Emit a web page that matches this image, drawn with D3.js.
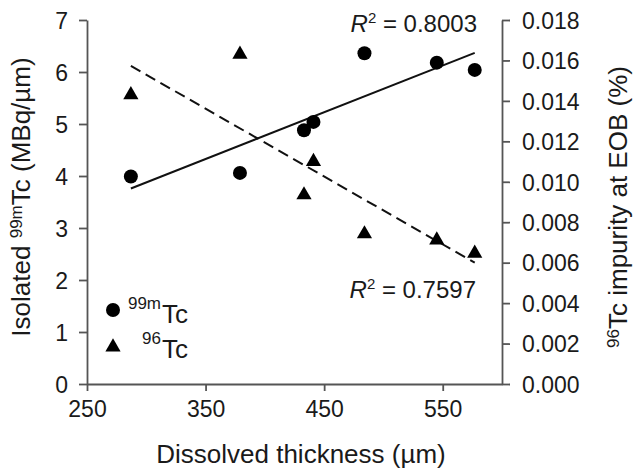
<!DOCTYPE html>
<html>
<head>
<meta charset="utf-8">
<script src="https://cdn.jsdelivr.net/npm/d3@7"></script>
<style>
  body { margin: 0; background: #fff; }
  svg text { font-family: Arial, "Liberation Sans", sans-serif; fill: #1a1a1a; }
  .axis path, .axis line { stroke: #555; stroke-width: 1.8px; }
  .axis text { font-size: 23px; }
</style>
</head>
<body>
<div id="chart"></div>
<script>
// thickness (um) for each run
var thickness = [287, 379, 433, 441, 484, 545, 577]
// isolated 99mTc (MBq/um)
var tc99m = [3.99, 4.06, 4.88, 5.04, 6.36, 6.18, 6.04]
// 96Tc impurity at EOB (%)
var tc96 = [0.0143, 0.0163, 0.00935, 0.0110, 0.00742, 0.00712, 0.00646]

var xTicks = [250, 350, 450, 550]
var leftTicks = [0, 1, 2, 3, 4, 5, 6, 7]
var rightTicks = [0, 0.002, 0.004, 0.006, 0.008, 0.010, 0.012, 0.014, 0.016, 0.018]
var r2Labels = ["0.8003", "0.7597"]

;(function() {
  var margin = { top: 20, left: 87, right: 136, bottom: 92 }
  var widthSvg = 638
  var heightSvg = 476
  var widthScale = widthSvg - margin.left - margin.right
  var heightScale = heightSvg - margin.top - margin.bottom

  var mainSvg = d3.select("#chart").append("svg")
    .attr("width", widthSvg)
    .attr("height", heightSvg)

  var mainG = mainSvg.append("g")
    .attr("transform", "translate(" + margin.left + "," + margin.top + ")")

  var xPositionScale = d3.scaleLinear().domain([250, 600]).range([0, widthScale])
  var yLeftScale = d3.scaleLinear().domain([0, 7]).range([heightScale, 0])
  var yRightScale = d3.scaleLinear().domain([0, 0.018]).range([heightScale, 0])

  var points = thickness.map(function(t, i) {
    return { x: t, a: tc99m[i], b: tc96[i] }
  })

  generateAxes()
  generateTrend("a", yLeftScale, null)
  generateTrend("b", yRightScale, "11,6")
  generateScatter()
  generateLabels()
  generateLegend()

  function fit(key) {
    var mx = d3.mean(points, function(d) { return d.x })
    var my = d3.mean(points, function(d) { return d[key] })
    var sxy = d3.sum(points, function(d) { return (d.x - mx) * (d[key] - my) })
    var sxx = d3.sum(points, function(d) { return (d.x - mx) * (d.x - mx) })
    var slope = sxy / sxx
    return function(x) { return my + slope * (x - mx) }
  }

  function generateAxes() {
    var xAxis = d3.axisBottom(xPositionScale)
      .tickValues(xTicks).tickSize(7).tickPadding(10).tickSizeOuter(0)
      .tickFormat(d3.format("d"))
    mainG.append("g")
      .attr("class", "axis x-axis")
      .attr("transform", "translate(0," + heightScale + ")")
      .call(xAxis)

    var yAxis = d3.axisLeft(yLeftScale)
      .tickValues(leftTicks).tickSize(8).tickPadding(11).tickSizeOuter(0)
      .tickFormat(d3.format("d"))
    mainG.append("g")
      .attr("class", "axis y-axis")
      .call(yAxis)

    var yAxisRight = d3.axisRight(yRightScale)
      .tickValues(rightTicks).tickSize(8).tickPadding(12).tickSizeOuter(0)
      .tickFormat(d3.format(".3f"))
    mainG.append("g")
      .attr("class", "axis y-axis-right")
      .attr("transform", "translate(" + widthScale + ",0)")
      .call(yAxisRight)

    mainG.selectAll(".axis text").attr("fill", "#1a1a1a")
    mainG.selectAll(".y-axis text, .y-axis-right text").attr("dy", "0.36em")
  }

  function generateTrend(key, yScale, dash) {
    var f = fit(key)
    var ends = d3.extent(thickness)
    mainG.append("line")
      .attr("x1", xPositionScale(ends[0]))
      .attr("y1", yScale(f(ends[0])))
      .attr("x2", xPositionScale(ends[1]))
      .attr("y2", yScale(f(ends[1])))
      .attr("stroke", "#111")
      .attr("stroke-width", 2)
      .attr("stroke-dasharray", dash)
  }

  function generateScatter() {
    mainG.selectAll(".dot")
      .data(points)
      .enter().append("circle")
      .attr("class", "dot")
      .attr("cx", function(d) { return xPositionScale(d.x) })
      .attr("cy", function(d) { return yLeftScale(d.a) })
      .attr("r", 7)
      .attr("fill", "#000")

    mainG.selectAll(".tri")
      .data(points)
      .enter().append("path")
      .attr("class", "tri")
      .attr("d", d3.symbol(d3.symbolTriangle, 100))
      .attr("transform", function(d) {
        return "translate(" + xPositionScale(d.x) + "," + yRightScale(d.b) + ")"
      })
      .attr("fill", "#000")
  }

  function r2Text(x, y, value) {
    var t = mainSvg.append("text")
      .attr("x", x)
      .attr("y", y)
      .attr("text-anchor", "end")
      .style("font-size", "24px")
    t.append("tspan").style("font-style", "italic").text("R")
    t.append("tspan").attr("dy", -9).style("font-size", "15px").text("2")
    t.append("tspan").attr("dy", 9).text(" = " + value)
  }

  function generateLabels() {
    r2Text(477, 32, r2Labels[0])
    r2Text(476, 298, r2Labels[1])

    mainSvg.append("text")
      .attr("x", 301)
      .attr("y", 463)
      .attr("text-anchor", "middle")
      .style("font-size", "26px")
      .text("Dissolved thickness (µm)")

    var left = mainSvg.append("text")
      .attr("transform", "translate(30,197) rotate(-90)")
      .attr("text-anchor", "middle")
      .style("font-size", "26px")
    left.append("tspan").text("Isolated ")
    left.append("tspan").attr("dy", -8).style("font-size", "17px").text("99m")
    left.append("tspan").attr("dy", 8).text("Tc (MBq/µm)")

    var right = mainSvg.append("text")
      .attr("transform", "translate(627,207) rotate(-90)")
      .attr("text-anchor", "middle")
      .style("font-size", "26px")
    right.append("tspan").attr("dy", -8).style("font-size", "17px").text("96")
    right.append("tspan").attr("dy", 8).text("Tc impurity at EOB (%)")
  }

  function generateLegend() {
    var legend = mainSvg.append("g").attr("class", "legend")
    legend.append("circle")
      .attr("cx", 113).attr("cy", 310).attr("r", 7).attr("fill", "#000")
    legend.append("path")
      .attr("d", d3.symbol(d3.symbolTriangle, 100))
      .attr("transform", "translate(113,347)")
      .attr("fill", "#000")

    var items = [{ sup: "99m", y: 323 }, { sup: "96", y: 358 }]
    items.forEach(function(it) {
      legend.append("text")
        .attr("x", 161).attr("y", it.y - 14)
        .attr("text-anchor", "end")
        .style("font-size", "17px")
        .text(it.sup)
      legend.append("text")
        .attr("x", 162).attr("y", it.y)
        .style("font-size", "26px")
        .text("Tc")
    })
  }
})()
</script>
</body>
</html>
